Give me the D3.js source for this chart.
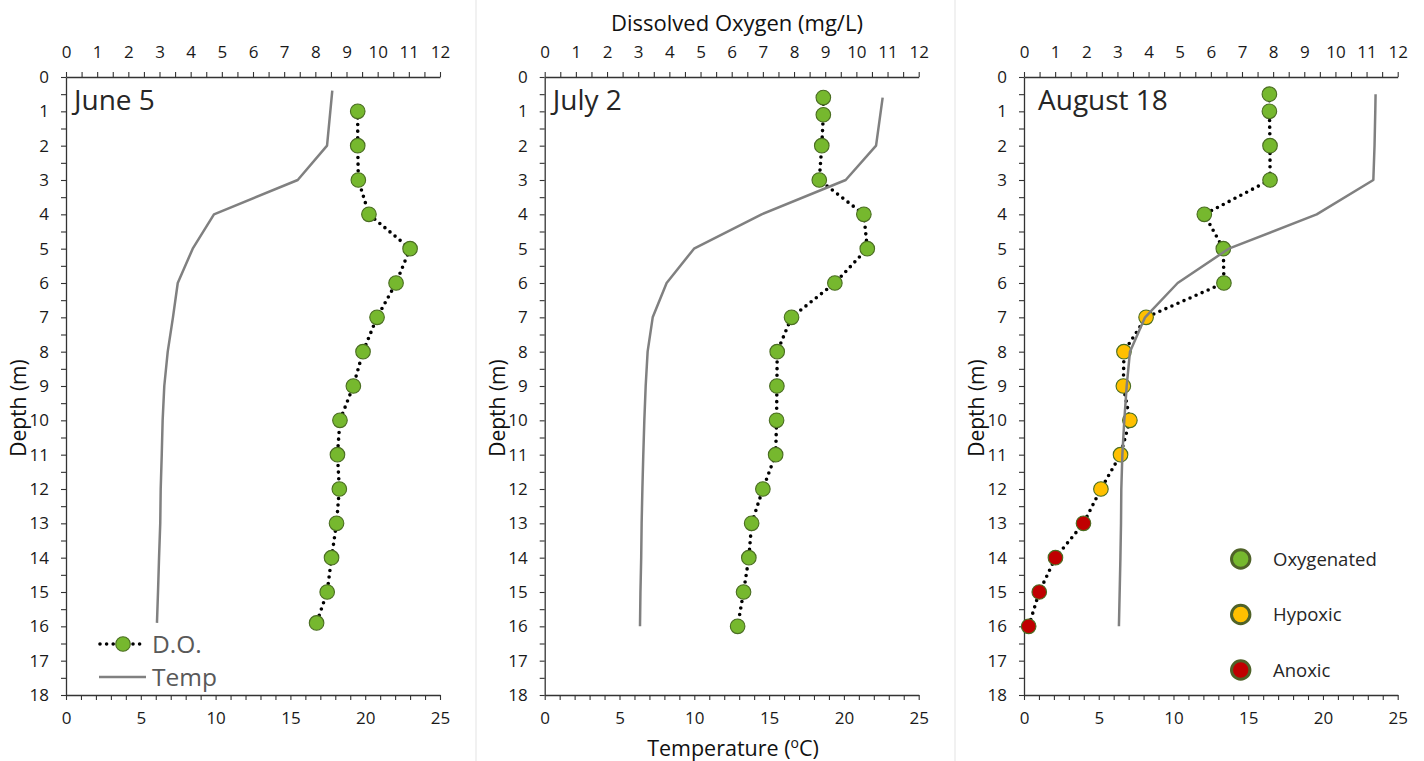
<!DOCTYPE html>
<html><head><meta charset="utf-8">
<script src="https://cdn.jsdelivr.net/npm/d3@7"></script>
<style>body{margin:0;background:#fff} text{font-family:"Open Sans",sans-serif}</style>
</head><body>
<svg id="c" width="1424" height="761"></svg>
<script>
// ---------- data ----------
const depthDomain = [0, 18];
const doDomain = [0, 12];
const tempDomain = [0, 25];
const panelNames = ["June 5", "July 2", "August 18"];

const juneDoDepth = [1,2,3,4,5,6,7,8,9,10,11,12,13,14,15,15.9];
const juneDo      = [9.36,9.36,9.38,9.72,11.04,10.59,9.98,9.53,9.22,8.79,8.71,8.77,8.68,8.52,8.38,8.04];
const juneTempDepth = [0.4,2,3,4,5,6,7,8,9,10,11,12,13,14,15,15.9];
const juneTemp      = [17.8,17.45,15.49,9.89,8.47,7.47,7.15,6.8,6.57,6.46,6.4,6.33,6.3,6.22,6.15,6.08];

const julyDoDepth = [0.6,1.1,2,3,4,5,6,7,8,9,10,11,12,13,14,15,16];
const julyDo      = [8.94,8.94,8.89,8.81,10.24,10.35,9.31,7.92,7.46,7.45,7.44,7.41,7.0,6.64,6.55,6.38,6.19];
const julyTempDepth = [0.6,2,3,4,5,6,7,8,9,10,11,12,13,14,15,16];
const julyTemp      = [22.59,22.15,20.12,14.5,9.98,8.15,7.22,6.88,6.75,6.66,6.59,6.53,6.48,6.45,6.4,6.37];

const augDoDepth = [0.5,1,2,3,4,5,6,7,8,9,10,11,12,13,14,15,16];
const augDo      = [7.88,7.88,7.9,7.9,5.79,6.4,6.42,3.92,3.21,3.19,3.4,3.1,2.47,1.91,1.01,0.49,0.15];
const augStatus  = ["Oxygenated","Oxygenated","Oxygenated","Oxygenated","Oxygenated","Oxygenated","Oxygenated",
                    "Hypoxic","Hypoxic","Hypoxic","Hypoxic","Hypoxic","Hypoxic",
                    "Anoxic","Anoxic","Anoxic","Anoxic"];
const augTempDepth = [0.5,1,2,3,4,5,6,7,8,9,10,11,12,13,14,15,16];
const augTemp      = [23.52,23.5,23.45,23.37,19.58,13.7,10.28,8.1,7.09,6.87,6.71,6.58,6.51,6.49,6.45,6.4,6.35];

const statusNames = ["Oxygenated","Hypoxic","Anoxic"];
const statusColors = {"Oxygenated":"#76b82e","Hypoxic":"#ffc000","Anoxic":"#c00000"};

const seriesNames = ["D.O.","Temp"];
const axisTitleDO = "Dissolved Oxygen (mg/L)";
const axisTitleDepth = "Depth (m)";

// ---------- layout ----------
const svg = d3.select("#c");
const plotTop = 77, plotBottom = 695;
const panels = [
  {left:66, right:440, doD:juneDoDepth, doV:juneDo, tD:juneTempDepth, tV:juneTemp, status:null},
  {left:544.7, right:918.7, doD:julyDoDepth, doV:julyDo, tD:julyTempDepth, tV:julyTemp, status:null},
  {left:1024, right:1397.7, doD:augDoDepth, doV:augDo, tD:augTempDepth, tV:augTemp, status:augStatus}
];

// separators
[476, 955].forEach(x => svg.append("line").attr("x1",x).attr("x2",x).attr("y1",0).attr("y2",761)
  .attr("stroke","#e3e3e3").attr("stroke-width",1));

const tickFont = 17, tickColor = "#1a1a1a";

function styleAxis(g){
  g.attr("font-family","'Open Sans',sans-serif").attr("font-size",tickFont);
  g.selectAll("path.domain").attr("stroke","#333").attr("stroke-width",1.3);
  g.selectAll(".tick line").attr("stroke","#333").attr("stroke-width",1.1);
  g.selectAll(".tick text").attr("fill",tickColor);
}

panels.forEach((p, i) => {
  const y = d3.scaleLinear().domain(depthDomain).range([plotTop, plotBottom]);
  const xDo = d3.scaleLinear().domain(doDomain).range([p.left, p.right]);
  const xT = d3.scaleLinear().domain(tempDomain).range([p.left, p.right]);

  const g = svg.append("g");

  g.append("g").attr("transform",`translate(0,${plotTop})`)
    .call(d3.axisTop(xDo).tickValues(d3.range(0,12.001,0.5)).tickSize(5).tickSizeOuter(0).tickPadding(14)
      .tickFormat(d => Number.isInteger(d) ? d : ""))
    .call(styleAxis);

  g.append("g").attr("transform",`translate(${p.left},0)`)
    .call(d3.axisLeft(y).tickValues(d3.range(0,18.001,0.5)).tickSize(5).tickSizeOuter(0).tickPadding(12)
      .tickFormat(d => Number.isInteger(d) ? d : ""))
    .call(styleAxis);

  g.append("g").attr("transform",`translate(0,${plotBottom})`)
    .call(d3.axisBottom(xT).tickValues(d3.range(0,25.001,1)).tickSize(5).tickSizeOuter(0).tickPadding(12)
      .tickFormat(d => d % 5 === 0 ? d : ""))
    .call(styleAxis);

  // depth title
  g.append("text").attr("transform",`translate(${p.left-40},${(plotTop+plotBottom)/2+22}) rotate(-90)`)
    .attr("text-anchor","middle").attr("font-size",21).attr("fill","#111").text(axisTitleDepth);

  // panel name
  g.append("text").attr("x", p.left + (i===2 ? 14 : 8)).attr("y",110)
    .attr("font-size",28).attr("fill","#262626").text(panelNames[i]);

  // DO dotted line
  const doData = p.doD.map((d,k) => ({d, v:p.doV[k], s: p.status ? p.status[k] : "Oxygenated"}));
  const lineDo = d3.line().x(d => xDo(d.v)).y(d => y(d.d));
  g.append("path").datum(doData).attr("d",lineDo).attr("fill","none")
    .attr("stroke","#000").attr("stroke-width",3.6).attr("stroke-linecap","round")
    .attr("stroke-dasharray","0,6.6");
  g.selectAll("circle.do").data(doData).enter().append("circle")
    .attr("cx",d => xDo(d.v)).attr("cy",d => y(d.d)).attr("r",7.3)
    .attr("fill",d => statusColors[d.s]).attr("stroke","#4a6d22").attr("stroke-width",1.1);

  // Temp line
  const tData = p.tD.map((d,k) => ({d, v:p.tV[k]}));
  const lineT = d3.line().x(d => xT(d.v)).y(d => y(d.d));
  g.append("path").datum(tData).attr("d",lineT).attr("fill","none")
    .attr("stroke","#808080").attr("stroke-width",2.5).attr("stroke-linejoin","round");
});

// top & bottom titles
svg.append("text").attr("x",737).attr("y",31).attr("text-anchor","middle")
  .attr("font-size",22).attr("fill","#111").text(axisTitleDO);
const tt = svg.append("text").attr("x",733).attr("y",756).attr("text-anchor","middle")
  .attr("font-size",21.5).attr("fill","#111");
tt.append("tspan").text("Temperature (");
tt.append("tspan").attr("font-size",14).attr("dy",-8).text("o");
tt.append("tspan").attr("dy",8).text("C)");

// legend panel 1
const lg = svg.append("g");
lg.append("line").attr("x1",100).attr("x2",146).attr("y1",644).attr("y2",644)
  .attr("stroke","#000").attr("stroke-width",3.6).attr("stroke-linecap","round").attr("stroke-dasharray","0,6.6");
lg.append("circle").attr("cx",123).attr("cy",644).attr("r",7.3)
  .attr("fill",statusColors.Oxygenated).attr("stroke","#4a6d22").attr("stroke-width",1.1);
lg.append("text").attr("x",152).attr("y",644).attr("dy","0.36em").attr("font-size",24.5).attr("fill","#595959").text(seriesNames[0]);
lg.append("line").attr("x1",99).attr("x2",146).attr("y1",677).attr("y2",677)
  .attr("stroke","#808080").attr("stroke-width",2.5);
lg.append("text").attr("x",152).attr("y",677).attr("dy","0.36em").attr("font-size",24.5).attr("fill","#595959").text(seriesNames[1]);

// legend panel 3
const lg3 = svg.append("g");
const legY = d3.scalePoint().domain(statusNames).range([559, 670]);
statusNames.forEach(s => {
  lg3.append("circle").attr("cx",1240.7).attr("cy",legY(s)).attr("r",9.2)
    .attr("fill",statusColors[s]).attr("stroke","#4f6228").attr("stroke-width",3);
  lg3.append("text").attr("x",1273).attr("y",legY(s)).attr("dy","0.36em")
    .attr("font-size",18.5).attr("fill","#262626").text(s);
});
</script>
</body></html>
